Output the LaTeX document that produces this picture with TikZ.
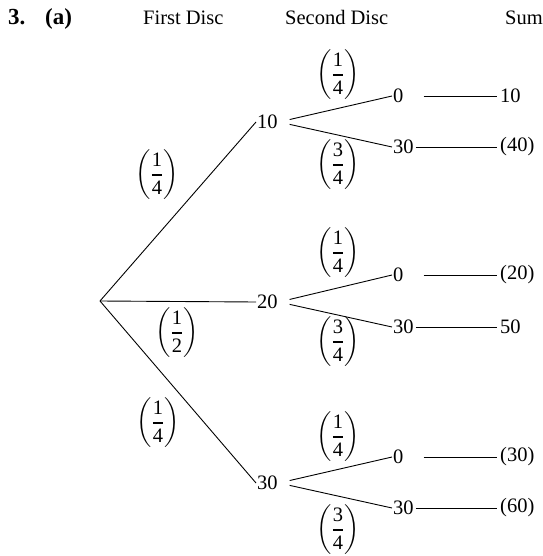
\documentclass[tikz,border=0pt]{standalone}
\usepackage{amsmath}
\usepackage{fontspec}
\setmainfont{Liberation Serif}
\newcommand{\pfrac}[2]{$\biggl(\genfrac{}{}{1.3pt}{0}{\text{#1}}{\text{#2}}\biggr)$}
\begin{document}
\begin{tikzpicture}[x=1pt,y=-1pt,
  every node/.style={font=\fontsize{20.5}{25}\selectfont},
  num/.style={anchor=west,inner sep=1pt},
  sumv/.style={anchor=west,inner xsep=3pt,inner ysep=1pt},
  prob/.style={inner sep=0pt},
  hdr/.style={anchor=base west,inner sep=0pt},
  bighdr/.style={hdr,font=\fontsize{23}{27}\selectfont\bfseries},
  edge/.style={line width=0.9pt}]
\useasboundingbox (0,0) rectangle (542,556);
% header
\node[bighdr] (h3) at (8,25) {3.};
\node[bighdr] (ha) at (45,25) {(a)};
\node[hdr] (h1) at (143,25) {First Disc};
\node[hdr] (h2) at (285,25) {Second Disc};
\node[hdr] (h4) at (505,25) {Sum};
% root
\coordinate (r) at (100,301);
% first level
\node[num] (f10) at (256,122) {10};
\node[num] (f20) at (256,302) {20};
\node[num] (f30) at (256,483) {30};
\draw[edge] (r) -- (f10.west);
\draw[edge] (r) -- (f20.west);
\draw[edge] (r) -- (f30.west);
\node[prob] (p1) at (157,175) {\pfrac{1}{4}};
\node[prob] (p2) at (177,333) {\pfrac{1}{2}};
\node[prob] (p3) at (158,423) {\pfrac{1}{4}};
% second level
\node[num] (a0) at (392,96) {0};
\node[num] (a30) at (392,147) {30};
\node[num] (b0) at (392,275) {0};
\node[num] (b30) at (392,327) {30};
\node[num] (c0) at (392,457) {0};
\node[num] (c30) at (392,508) {30};
\foreach \f/\u/\l in {f10/a0/a30,f20/b0/b30,f30/c0/c30}{
  \draw[edge,shorten <=11pt] (\f.east) -- (\u.west);
  \draw[edge,shorten <=11pt] (\f.east) -- (\l.west);
}
\node[prob] (q1) at (338,75) {\pfrac{1}{4}};
\node[prob] (q2) at (338,165) {\pfrac{3}{4}};
\node[prob] (q3) at (338,253) {\pfrac{1}{4}};
\node[prob] (q4) at (338,342) {\pfrac{3}{4}};
\node[prob] (q5) at (338,437) {\pfrac{1}{4}};
\node[prob] (q6) at (338,530) {\pfrac{3}{4}};
% sums
\node[sumv] (sa0) at (497,96) {10};
\node[sumv] (sa30) at (497,147) {(40)};
\node[sumv] (sb0) at (497,275) {(20)};
\node[sumv] (sb30) at (497,327) {50};
\node[sumv] (sc0) at (497,457) {(30)};
\node[sumv] (sc30) at (497,508) {(60)};
\foreach \s/\t in {a0/sa0,b0/sb0,c0/sc0}{
  \draw[edge,shorten <=19pt] (\s.east) -- (\t.west);
}
\foreach \s/\t in {a30/sa30,b30/sb30,c30/sc30}{
  \draw[edge,shorten <=1pt] (\s.east) -- (\t.west);
}
\end{tikzpicture}
\end{document}
